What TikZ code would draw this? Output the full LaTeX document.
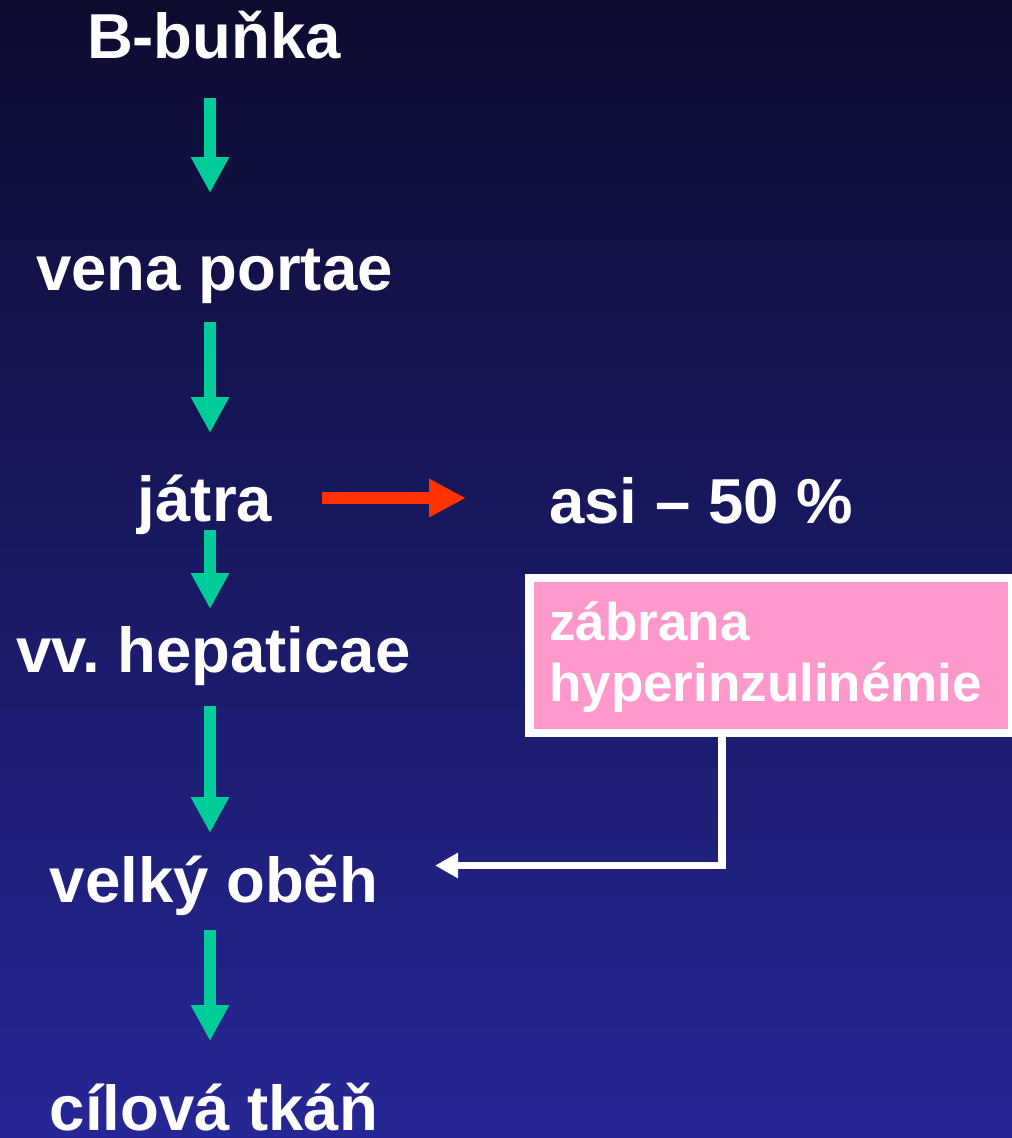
\documentclass[tikz,border=0pt]{standalone}
\usepackage{fontspec}
\setmainfont{Liberation Sans}
\usetikzlibrary{arrows.meta}
\frenchspacing

\definecolor{bgtop}{RGB}{12,12,48}
\definecolor{bgmid}{RGB}{30,30,113}
\definecolor{bgbot}{RGB}{38,38,150}
\definecolor{flowgreen}{RGB}{0,204,153}
\definecolor{flowred}{RGB}{255,51,0}
\definecolor{notepink}{RGB}{255,153,204}

\begin{document}
\begin{tikzpicture}[x=1pt, y=-1pt,
  stage/.style={font=\bfseries\fontsize{63.5}{70}\selectfont, text=white, inner sep=0pt, anchor=base},
  notetext/.style={font=\bfseries\fontsize{53}{61}\selectfont, text=white, inner sep=0pt, anchor=base west},
  downflow/.style={draw=flowgreen, line width=12pt, -{Triangle[width=36pt,length=36pt]}},
  sideflow/.style={draw=flowred, line width=12pt, -{Triangle[width=36pt,length=37pt]}},
  feedback/.style={draw=white, line width=7.5pt, -{Triangle[width=24pt,length=23pt]}},
  notebox/.style={draw=white, line width=8.5pt, fill=notepink, inner sep=0pt, outer sep=0pt,
    minimum width=482.5pt, minimum height=155pt, anchor=north west}]

  % page and background gradient
  \useasboundingbox (0,0) rectangle (1012,1138);
  \shade[top color=bgtop, middle color=bgmid, bottom color=bgbot] (0,0) rectangle (1012,1138);

  % stages of the insulin pathway
  \node[stage] (bcell)  at (214,58)    {B-buňka};
  \node[stage] (portal) at (214.5,290) {vena portae};
  \node[stage] (liver)  at (205,521)   {játra};
  \node[stage] (hepv)   at (213.5,672) {vv. hepaticae};
  \node[stage] (circ)   at (214,902)   {velký oběh};
  \node[stage] (target) at (214,1130)  {cílová tkáň};
  \node[stage, anchor=base west] (share) at (549,523) {asi – 50 \%};

  % note box
  \node[notebox] (note) at (529.5,578) {};
  \node[notetext] (noteA) at (549,640) {zábrana};
  \node[notetext] (noteB) at (549,701) {hyperinzulinémie};

  % arrow end points
  \coordinate (g1a) at (210,98);   \coordinate (g1b) at (210,193);
  \coordinate (g2a) at (210,322);  \coordinate (g2b) at (210,433);
  \coordinate (g3a) at (210,530);  \coordinate (g3b) at (210,609);
  \coordinate (g4a) at (210,706);  \coordinate (g4b) at (210,833);
  \coordinate (g5a) at (210,930);  \coordinate (g5b) at (210,1041);
  \coordinate (ra)  at (322,498);  \coordinate (rb)  at (466,498);
  \coordinate (bend) at (722,865.5);
  \coordinate (wtip) at (435,865.5);

  % flow arrows
  \draw[downflow] (g1a) -- (g1b);
  \draw[downflow] (g2a) -- (g2b);
  \draw[downflow] (g3a) -- (g3b);
  \draw[downflow] (g4a) -- (g4b);
  \draw[downflow] (g5a) -- (g5b);
  \draw[sideflow] (ra) -- (rb);

  % feedback from the note to the circulation
  \draw[feedback] (note.south -| bend) -- (bend) -- (wtip);
\end{tikzpicture}
\end{document}
